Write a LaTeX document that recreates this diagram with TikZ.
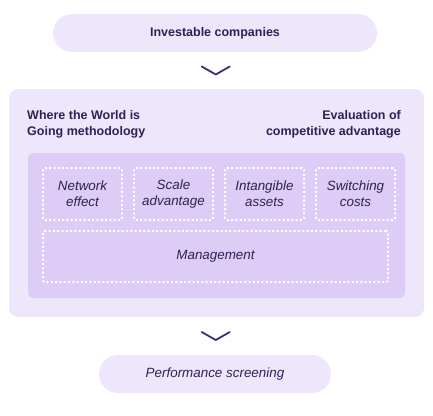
\documentclass[tikz,border=0pt]{standalone}
\usepackage{fontspec}
\setmainfont{Liberation Sans}
\usetikzlibrary{positioning,calc}
\definecolor{lilac}{HTML}{EEE6FB}
\definecolor{lilacdk}{HTML}{DDCCF6}
\definecolor{ink}{HTML}{2E2156}
\definecolor{chevron}{HTML}{3D2B7A}
\tikzset{
  pill/.style       = {fill=lilac, rounded corners=19pt, minimum height=38pt, inner sep=0pt},
  panel/.style      = {fill=lilac, rounded corners=9pt, inner sep=0pt},
  inner/.style      = {fill=lilacdk, rounded corners=5pt, inner sep=0pt},
  factor/.style     = {draw=white, line width=2pt, dash pattern=on 2pt off 2.3pt,
                       rounded corners=2pt, minimum width=79pt, minimum height=52pt,
                       inner sep=0pt, align=center, font=\fontsize{13.4}{16}\selectfont\itshape},
  chev/.style       = {draw=chevron, line width=1.8pt, line cap=round, line join=round},
  hdr/.style        = {inner sep=0pt, font=\fontsize{12.5}{16}\selectfont\bfseries},
  every node/.style = {text=ink},
}
\begin{document}
\begin{tikzpicture}[x=1pt,y=-1pt]
  \useasboundingbox (0,0) rectangle (433,415);
  % stages
  \node[pill, minimum width=324pt, hdr] (top) at (215,33) {Investable companies};
  \node[panel, minimum width=415pt, minimum height=228pt] (outer) at (216.5,203) {};
  \node[hdr, anchor=west, align=left] (wwig) at (27,124) {Where the World is\\Going methodology};
  \node[hdr, anchor=east, align=right] (evac) at (401,124) {Evaluation of\\competitive advantage};
  \node[inner, minimum width=377pt, minimum height=145pt] (moat) at (216.5,225.5) {};
  \node[factor] (net) at (82.5,194) {Network\\effect};
  \node[factor, right=10pt of net] (scale) {Scale\\advantage};
  \node[factor, right=10pt of scale] (intang) {Intangible\\assets};
  \node[factor, right=10pt of intang] (switch) {Switching\\costs};
  \node[factor, minimum width=345pt, minimum height=51pt] (mgmt) at (215.5,256.5) {Management};
  \node[pill, minimum width=232pt, font=\fontsize{13.4}{16}\selectfont\itshape] (perf) at (215,374) {Performance screening};
  % chevrons
  \coordinate (c1) at ($(top.south)!0.5!(outer.north)$);
  \coordinate (c2) at ($(outer.south)!0.5!(perf.north)$);
  \draw[chev] ($(c1)+(-14,-4)$) -- ($(c1)+(0,4)$) -- ($(c1)+(14,-4)$);
  \draw[chev] ($(c2)+(-14,-4)$) -- ($(c2)+(0,4)$) -- ($(c2)+(14,-4)$);
\end{tikzpicture}
\end{document}
